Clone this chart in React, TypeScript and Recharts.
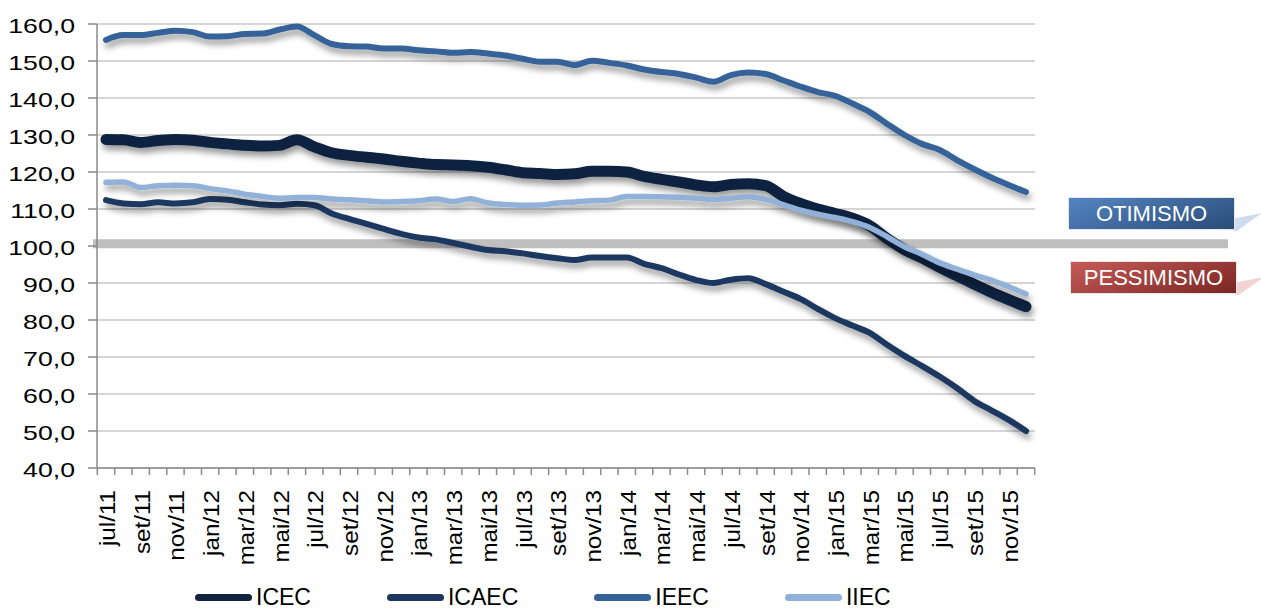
import React from "react"
import { LineChart, Line, XAxis, YAxis, CartesianGrid, ReferenceLine } from "recharts"

const MONTHS = [
  "jul/11", "ago/11", "set/11", "out/11", "nov/11", "dez/11",
  "jan/12", "fev/12", "mar/12", "abr/12", "mai/12", "jun/12", "jul/12", "ago/12", "set/12", "out/12", "nov/12", "dez/12",
  "jan/13", "fev/13", "mar/13", "abr/13", "mai/13", "jun/13", "jul/13", "ago/13", "set/13", "out/13", "nov/13", "dez/13",
  "jan/14", "fev/14", "mar/14", "abr/14", "mai/14", "jun/14", "jul/14", "ago/14", "set/14", "out/14", "nov/14", "dez/14",
  "jan/15", "fev/15", "mar/15", "abr/15", "mai/15", "jun/15", "jul/15", "ago/15", "set/15", "out/15", "nov/15", "dez/15",
]

const ICEC = [
  128.8, 128.7, 128.0, 128.5, 128.8, 128.6, 128.0, 127.6, 127.2, 127.0, 127.2, 128.7, 126.8, 125.2, 124.5, 124.0, 123.5, 122.9,
  122.4, 122.0, 121.9, 121.7, 121.3, 120.6, 119.8, 119.6, 119.3, 119.5, 120.2, 120.2, 120.0, 118.8, 118.0, 117.3, 116.5, 116.0,
  116.6, 116.8, 116.3, 113.5, 111.5, 110.0, 108.8, 107.5, 105.5, 102.0, 99.0, 96.8, 94.3, 92.0, 89.7, 87.5, 85.5, 83.6,
]
const ICAEC = [
  112.4, 111.5, 111.3, 111.8, 111.5, 111.8, 112.7, 112.5, 111.8, 111.2, 111.0, 111.4, 111.0, 108.8, 107.3, 106.0, 104.6, 103.3,
  102.3, 101.8, 100.8, 99.8, 98.9, 98.6, 98.0, 97.3, 96.7, 96.2, 96.9, 96.9, 96.9, 95.2, 94.0, 92.3, 90.8, 90.0,
  90.9, 91.3, 89.7, 87.7, 85.7, 83.0, 80.5, 78.5, 76.5, 73.3, 70.3, 67.6, 64.8, 61.7, 58.2, 55.6, 53.0, 50.0,
]
const IEEC = [
  155.7, 157.0, 157.0, 157.6, 158.2, 157.8, 156.6, 156.7, 157.3, 157.4, 158.5, 159.3, 157.0, 154.6, 154.0, 153.9, 153.4, 153.4,
  152.9, 152.6, 152.2, 152.4, 152.0, 151.5, 150.6, 149.8, 149.8, 148.9, 150.1, 149.5, 148.8, 147.7, 147.0, 146.5, 145.5, 144.4,
  146.2, 146.9, 146.5, 144.8, 143.1, 141.6, 140.6, 138.5, 136.2, 133.0, 130.0, 127.6, 126.0, 123.3, 120.8, 118.5, 116.5, 114.6,
]
const IIEC = [
  117.2, 117.3, 115.8, 116.3, 116.4, 116.3, 115.5, 114.9, 114.0, 113.4, 112.9, 113.1, 113.1, 112.7, 112.5, 112.2, 111.9, 112.0,
  112.2, 112.7, 112.0, 112.8, 111.6, 111.2, 111.0, 111.1, 111.6, 111.9, 112.2, 112.4, 113.4, 113.4, 113.3, 113.2, 112.9, 112.6,
  112.9, 113.3, 112.6, 111.2, 109.7, 108.6, 107.7, 106.6, 105.0, 102.5, 99.8, 97.8, 95.5, 93.8, 92.2, 90.8, 89.0, 87.0,
]

const Y_TICKS = [40, 50, 60, 70, 80, 90, 100, 110, 120, 130, 140, 150, 160]
const NEUTRAL = 100.6

const SERIES = [
  { key: "ICEC", values: ICEC, color: "#10233f", width: 11 },
  { key: "ICAEC", values: ICAEC, color: "#1c3861", width: 6 },
  { key: "IEEC", values: IEEC, color: "#356298", width: 6 },
  { key: "IIEC", values: IIEC, color: "#92b1d8", width: 5.5 },
]

const data = MONTHS.map((month, i) => {
  const row: Record<string, string | number> = { month }
  SERIES.forEach((s) => (row[s.key] = s.values[i]))
  return row
})

const W = 1261
const H = 609
const PLOT_LEFT = 97
const PLOT_RIGHT = 1035
const PLOT_TOP = 24
const PLOT_BOTTOM = 468
const X_PAD = 9
const STEP = (PLOT_RIGHT - PLOT_LEFT - 2 * X_PAD) / (MONTHS.length - 1)
const FONT = "'Liberation Sans', Arial, sans-serif"
const AXIS = "#8a8a8a"

// the source picture is stretched, so the axis labels are widened a little
function YTick(props: any) {
  const { y, payload } = props
  return (
    <text
      transform={`translate(${PLOT_LEFT - 22}, ${y}) scale(1.27, 1)`}
      textAnchor="end"
      dy="0.42em"
      fontSize={21}
      fontFamily={FONT}
      fill="#000"
    >
      {Number(payload.value).toFixed(1).replace(".", ",")}
    </text>
  )
}

function XTick(props: any) {
  const { x, payload, index } = props
  const half = STEP / 2
  return (
    <g>
      <line x1={x - half} x2={x - half} y1={PLOT_BOTTOM} y2={PLOT_BOTTOM + 7} stroke={AXIS} strokeWidth={1.5} />
      {index === MONTHS.length - 1 && (
        <line x1={x + half} x2={x + half} y1={PLOT_BOTTOM} y2={PLOT_BOTTOM + 7} stroke={AXIS} strokeWidth={1.5} />
      )}
      {index % 2 === 0 && (
        <text
          transform={`translate(${x + 1}, ${PLOT_BOTTOM + 22}) rotate(-90) scale(1.1, 1)`}
          textAnchor="end"
          dy="0.36em"
          fontSize={22}
          fontFamily={FONT}
          fill="#000"
        >
          {payload.value}
        </text>
      )}
    </g>
  )
}

// gray bar at the neutral level, running past the plot toward the labels
function NeutralBar(props: any) {
  const { x1, y1, x2 } = props
  return <line x1={x1 - 4} x2={x2 + 193} y1={y1} y2={y1} stroke="#bfbfbf" strokeWidth={9} />
}

function Tag({ text, top, left, from, to, ghost }: { text: string; top: number; left: number; from: string; to: string; ghost: string }) {
  return (
    <>
      <div
        style={{
          position: "absolute",
          top: top + 16,
          left: left + 166,
          width: 28,
          height: 18,
          background: ghost,
          clipPath: "polygon(0 30%, 100% 0, 10% 100%, 0 100%)",
        }}
      />
      <div
        style={{
          position: "absolute",
          top,
          left,
          width: 167,
          height: 33,
          boxSizing: "border-box",
          border: "1px solid #e4e8ee",
          background: `linear-gradient(160deg, ${from}, ${to})`,
          color: "#fff",
          fontFamily: FONT,
          fontSize: 22,
          lineHeight: "31px",
          textAlign: "center",
        }}
      >
        {text}
      </div>
    </>
  )
}

export default function App() {
  return (
    <div style={{ position: "absolute", left: 0, top: 0, width: W, height: H, background: "#fff", overflow: "hidden" }}>
      <LineChart
        width={W}
        height={H}
        data={data}
        margin={{ top: PLOT_TOP, right: W - PLOT_RIGHT, left: 0, bottom: 0 }}
      >
        <defs>
          <filter id="lineShadow" x="-5%" y="-20%" width="115%" height="160%">
            <feDropShadow dx={2} dy={5} stdDeviation={3} floodColor="#000" floodOpacity={0.4} />
          </filter>
        </defs>
        <CartesianGrid vertical={false} stroke="#c8c8c8" strokeWidth={1.5} />
        <XAxis
          dataKey="month"
          interval={0}
          height={H - PLOT_BOTTOM}
          padding={{ left: X_PAD, right: X_PAD }}
          tickLine={false}
          axisLine={{ stroke: AXIS, strokeWidth: 1.5 }}
          tick={<XTick />}
        />
        <YAxis
          width={PLOT_LEFT}
          domain={[40, 160]}
          ticks={Y_TICKS}
          interval={0}
          tickSize={9}
          tickLine={{ stroke: AXIS, strokeWidth: 1.5 }}
          axisLine={{ stroke: AXIS, strokeWidth: 1.5 }}
          tick={<YTick />}
        />
        <ReferenceLine y={NEUTRAL} shape={<NeutralBar />} />
        {SERIES.map((s) => (
          <Line
            key={s.key}
            type="monotone"
            dataKey={s.key}
            stroke={s.color}
            strokeWidth={s.width}
            strokeLinecap="round"
            strokeLinejoin="round"
            dot={false}
            activeDot={false}
            filter="url(#lineShadow)"
            isAnimationActive={false}
          />
        ))}
      </LineChart>

      <Tag text="OTIMISMO" top={197} left={1068} from="#5485c2" to="#2a4c78" ghost="#cddcee" />
      <Tag text="PESSIMISMO" top={261} left={1070} from="#c75b57" to="#7a2624" ghost="#f1d3d2" />

      <div style={{ position: "absolute", left: 195, top: 585, display: "flex", gap: 76, alignItems: "center" }}>
        {SERIES.map((s) => (
          <div key={s.key} style={{ display: "flex", alignItems: "center" }}>
            <span style={{ display: "inline-block", width: 57, height: 7, borderRadius: 4, background: s.color, marginRight: 4 }} />
            <span style={{ fontFamily: FONT, fontSize: 23, lineHeight: "24px", color: "#000" }}>{s.key}</span>
          </div>
        ))}
      </div>
    </div>
  )
}
